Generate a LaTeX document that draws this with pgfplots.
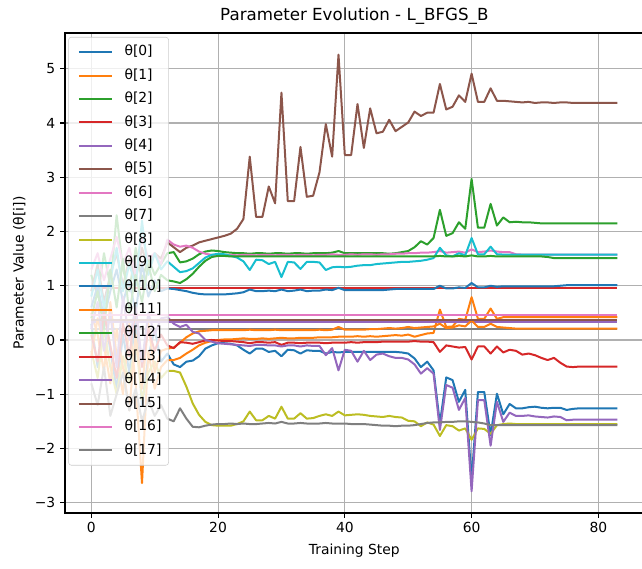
\documentclass[border=0pt]{standalone}
\usepackage{fontspec}
\setmainfont{DejaVu Sans}
\usepackage{pgfplots}
\pgfplotsset{compat=1.18}
\definecolor{c0}{HTML}{1F77B4}
\definecolor{c1}{HTML}{FF7F0E}
\definecolor{c2}{HTML}{2CA02C}
\definecolor{c3}{HTML}{D62728}
\definecolor{c4}{HTML}{9467BD}
\definecolor{c5}{HTML}{8C564B}
\definecolor{c6}{HTML}{E377C2}
\definecolor{c7}{HTML}{7F7F7F}
\definecolor{c8}{HTML}{BCBD22}
\definecolor{c9}{HTML}{17BECF}
\pgfplotsset{
  pl/.style={line width=1.5pt, line join=round},
  /pgfplots/table/steps/.style={x expr=\coordindex, y index=0, header=false, row sep=\\},
}
\begin{document}
\fontsize{10.4}{12.5}\selectfont
\begin{tikzpicture}
\begin{axis}[
  at={(48.75pt,41.25pt)}, anchor=south west,
  scale only axis, width=434pt, height=360pt,
  xmin=-4.15, xmax=87.15, ymin=-3.19, ymax=5.66,
  xtick={0,20,40,60,80},
  ytick={-3,-2,-1,0,1,2,3,4,5},
  yticklabels={−3,−2,−1,0,1,2,3,4,5},
  /pgf/number format/assume math mode=true,
  tick label style={font=\fontsize{10.4}{12.5}\selectfont},
  label style={font=\fontsize{10.4}{12.5}\selectfont},
  title style={font=\fontsize{12.5}{15}\selectfont, yshift=-3.5pt},
  title={Parameter Evolution - L\_BFGS\_B},
  xlabel={Training Step},
  ylabel={Parameter Value (θ[i])},
  xlabel style={yshift=-1pt},
  grid=major,
  major grid style={color=black!31, line width=0.8pt},
  axis line style={line width=0.8pt},
  tick style={black, line width=0.8pt},
  major tick length=3.6pt,
  tick align=outside,
  xtick pos=bottom, ytick pos=left,
  no markers,
  legend cell align=left,
  legend image code/.code={\path[draw=none] (0pt,0pt) -- (2pt,0pt); \draw[#1] (2.4pt,0pt) -- (27.4pt,0pt);},
  legend style={
    at={(0,1)}, anchor=north west, xshift=2.5pt, yshift=-3pt,
    draw=black!20, fill=white, fill opacity=0.8, draw opacity=1, text opacity=1,
    rounded corners=2pt, inner xsep=5.3pt, inner ysep=5.9pt,
    row sep=7.07pt, column sep=8.5pt,
    nodes={inner sep=0pt, text height=8pt, text depth=2.5pt},
    font=\fontsize{10.4}{12.5}\selectfont,
  },
]
% theta[0]
\addplot[c0, pl] table[steps] {0.3\\-0.5\\0.6\\-0.2\\-0.9\\0.1\\-0.6\\0.4\\-1.2\\-0.3\\0.2\\-0.4\\-0.25\\
-0.45\\-0.5\\-0.4\\-0.38\\-0.3\\-0.16\\-0.1\\-0.06\\-0.06\\-0.07\\
-0.1\\-0.18\\-0.25\\-0.16\\-0.16\\-0.22\\-0.2\\-0.3\\-0.18\\-0.19\\
-0.25\\-0.19\\-0.2\\-0.2\\-0.25\\-0.22\\-0.23\\-0.22\\-0.22\\-0.22\\
-0.22\\-0.22\\-0.22\\-0.22\\-0.22\\-0.22\\-0.23\\-0.25\\-0.34\\-0.50\\
-0.40\\-0.56\\-1.54\\-0.69\\-0.74\\-1.14\\-0.92\\-2.58\\-0.96\\-0.96\\
-1.75\\-0.99\\-1.37\\-1.18\\-1.26\\-1.26\\-1.24\\-1.23\\-1.25\\-1.26\\
-1.25\\-1.25\\-1.29\\-1.27\\-1.26\\-1.26\\-1.26\\-1.26\\-1.26\\-1.26\\-1.26\\};
% theta[1]
\addplot[c1, pl] table[steps] {0.5\\0.1\\-0.6\\0.7\\-0.3\\-1.0\\0.3\\-0.8\\-2.64\\-0.2\\-0.9\\-0.5\\-0.37\\
-0.37\\-0.33\\-0.25\\-0.18\\-0.1\\-0.05\\-0.02\\0.0\\0.01\\0.01\\
0.02\\0.03\\0.02\\0.02\\0.03\\0.02\\0.03\\0.04\\0.03\\0.03\\
0.04\\0.04\\0.04\\0.05\\0.05\\0.05\\0.06\\0.06\\0.06\\0.07\\
0.06\\0.07\\0.06\\0.07\\0.08\\0.09\\0.08\\0.10\\0.06\\0.09\\
0.12\\0.13\\0.56\\0.24\\0.25\\0.39\\0.37\\0.79\\0.39\\0.39\\
0.58\\0.39\\0.42\\0.42\\0.42\\0.42\\0.42\\0.42\\0.42\\0.42\\
0.42\\0.42\\0.42\\0.42\\0.42\\0.42\\0.42\\0.42\\0.42\\0.42\\0.42\\};
% theta[2]
\addplot[c2, pl] table[steps] {1.2\\0.8\\1.6\\1.0\\2.3\\1.3\\0.9\\1.7\\1.1\\1.5\\1.2\\1.4\\1.6\\
1.62\\1.43\\1.45\\1.50\\1.58\\1.63\\1.65\\1.64\\1.62\\1.61\\
1.60\\1.60\\1.59\\1.60\\1.60\\1.59\\1.60\\1.60\\1.59\\1.60\\
1.60\\1.59\\1.60\\1.60\\1.60\\1.61\\1.64\\1.60\\1.60\\1.60\\
1.60\\1.60\\1.60\\1.60\\1.59\\1.60\\1.62\\1.64\\1.71\\1.82\\
1.76\\1.88\\2.40\\1.92\\1.97\\2.17\\2.05\\2.97\\2.07\\2.07\\
2.51\\2.11\\2.26\\2.17\\2.18\\2.17\\2.17\\2.16\\2.15\\2.15\\
2.15\\2.15\\2.15\\2.15\\2.15\\2.15\\2.15\\2.15\\2.15\\2.15\\2.15\\};
% theta[3]
\addplot[c3, pl] coordinates {(0,0.96) (83,0.96)};
% theta[4]
\addplot[c4, pl] coordinates {(0,0.33) (83,0.33)};
% theta[5]
\addplot[c5, pl] table[steps] {0.9\\1.4\\0.7\\1.2\\1.6\\1.0\\1.5\\1.1\\1.7\\1.3\\1.6\\1.5\\1.8\\
1.71\\1.62\\1.70\\1.74\\1.80\\1.83\\1.86\\1.89\\1.92\\1.96\\
2.05\\2.23\\3.38\\2.27\\2.27\\2.83\\2.52\\4.56\\2.56\\2.56\\
3.56\\2.64\\2.66\\3.09\\3.98\\3.38\\5.26\\3.41\\3.41\\4.35\\
3.54\\4.27\\3.81\\3.84\\4.06\\3.85\\3.93\\4.01\\4.21\\4.13\\
4.19\\4.19\\4.72\\4.25\\4.30\\4.51\\4.39\\4.91\\4.39\\4.39\\
4.64\\4.41\\4.41\\4.40\\4.39\\4.38\\4.39\\4.37\\4.38\\4.38\\
4.37\\4.38\\4.38\\4.37\\4.37\\4.37\\4.37\\4.37\\4.37\\4.37\\4.37\\};
% theta[6]
\addplot[c6, pl] table[steps] {1.3\\1.6\\1.1\\1.5\\1.9\\1.4\\1.7\\1.2\\1.9\\1.5\\1.6\\1.4\\1.85\\
1.76\\1.72\\1.74\\1.70\\1.63\\1.59\\1.57\\1.57\\1.57\\1.57\\
1.56\\1.57\\1.57\\1.56\\1.57\\1.57\\1.56\\1.57\\1.57\\1.56\\
1.57\\1.57\\1.56\\1.57\\1.57\\1.58\\1.57\\1.57\\1.58\\1.57\\
1.58\\1.58\\1.57\\1.58\\1.58\\1.59\\1.59\\1.60\\1.60\\1.61\\
1.61\\1.62\\1.64\\1.61\\1.62\\1.63\\1.61\\1.67\\1.62\\1.63\\
1.65\\1.63\\1.62\\1.62\\1.58\\1.575\\1.575\\1.575\\1.575\\1.575\\
1.575\\1.575\\1.575\\1.575\\1.575\\1.575\\1.575\\1.575\\1.575\\1.575\\1.575\\};
% theta[7]
\addplot[c7, pl] coordinates {(0,0.21) (83,0.21)};
% theta[8]
\addplot[c8, pl] table[steps] {-0.2\\-0.7\\0.2\\-0.5\\-1.0\\-0.3\\-0.8\\0.0\\-1.1\\-0.6\\-0.4\\-0.7\\-0.57\\
-0.57\\-0.60\\-0.86\\-1.17\\-1.38\\-1.51\\-1.57\\-1.58\\-1.58\\-1.58\\
-1.55\\-1.50\\-1.32\\-1.48\\-1.48\\-1.40\\-1.45\\-1.23\\-1.45\\-1.45\\
-1.35\\-1.45\\-1.44\\-1.40\\-1.37\\-1.40\\-1.32\\-1.39\\-1.38\\-1.37\\
-1.38\\-1.40\\-1.41\\-1.42\\-1.40\\-1.42\\-1.43\\-1.49\\-1.50\\-1.59\\
-1.52\\-1.56\\-1.77\\-1.57\\-1.59\\-1.67\\-1.63\\-1.84\\-1.63\\-1.64\\
-1.73\\-1.57\\-1.55\\-1.54\\-1.55\\-1.55\\-1.55\\-1.55\\-1.55\\-1.55\\
-1.55\\-1.55\\-1.55\\-1.55\\-1.55\\-1.55\\-1.55\\-1.55\\-1.55\\-1.55\\-1.55\\};
% theta[9]
\addplot[c9, pl] table[steps] {0.8\\1.3\\0.6\\1.1\\1.7\\0.9\\1.4\\1.0\\2.2\\1.2\\1.6\\1.3\\1.45\\
1.35\\1.25\\1.27\\1.32\\1.42\\1.52\\1.57\\1.59\\1.58\\1.55\\
1.52\\1.45\\1.29\\1.48\\1.47\\1.40\\1.44\\1.16\\1.44\\1.43\\
1.31\\1.44\\1.44\\1.43\\1.29\\1.34\\1.35\\1.34\\1.35\\1.37\\
1.38\\1.38\\1.40\\1.41\\1.42\\1.43\\1.44\\1.44\\1.45\\1.46\\
1.48\\1.51\\1.70\\1.56\\1.54\\1.60\\1.56\\1.88\\1.58\\1.58\\
1.72\\1.58\\1.575\\1.575\\1.575\\1.575\\1.575\\1.575\\1.575\\1.575\\
1.575\\1.575\\1.575\\1.575\\1.575\\1.575\\1.575\\1.575\\1.575\\1.575\\1.575\\};
% theta[10]
\addplot[c0, pl] table[steps] {0.6\\1.0\\0.4\\0.9\\1.3\\0.7\\1.1\\0.5\\1.4\\0.8\\1.1\\0.9\\0.95\\
0.94\\0.92\\0.90\\0.87\\0.85\\0.84\\0.84\\0.84\\0.84\\0.85\\
0.86\\0.88\\0.93\\0.90\\0.90\\0.91\\0.90\\0.93\\0.90\\0.91\\
0.93\\0.90\\0.91\\0.91\\0.93\\0.92\\0.96\\0.92\\0.92\\0.92\\
0.92\\0.92\\0.92\\0.92\\0.93\\0.94\\0.94\\0.94\\0.94\\0.94\\
0.94\\0.94\\1.00\\0.95\\0.95\\0.97\\0.96\\1.05\\0.97\\0.97\\
1.00\\0.98\\0.99\\0.99\\0.99\\0.99\\0.99\\0.99\\0.99\\0.99\\
0.99\\1.00\\1.01\\1.01\\1.01\\1.01\\1.01\\1.01\\1.01\\1.01\\1.01\\};
% theta[11]
\addplot[c1, pl] table[steps] {-0.3\\0.4\\-0.1\\-0.8\\0.2\\-0.5\\-1.3\\0.1\\-0.9\\0.3\\-0.6\\-0.2\\-0.16\\
-0.14\\-0.05\\0.05\\0.12\\0.16\\0.17\\0.18\\0.18\\0.18\\0.18\\
0.18\\0.18\\0.19\\0.18\\0.18\\0.18\\0.19\\0.18\\0.18\\0.18\\
0.18\\0.18\\0.18\\0.19\\0.18\\0.19\\0.24\\0.19\\0.19\\0.19\\
0.19\\0.20\\0.20\\0.21\\0.22\\0.21\\0.22\\0.24\\0.22\\0.23\\
0.24\\0.25\\0.30\\0.22\\0.23\\0.27\\0.25\\0.36\\0.24\\0.24\\
0.30\\0.24\\0.23\\0.22\\0.21\\0.21\\0.21\\0.21\\0.21\\0.21\\
0.21\\0.21\\0.21\\0.21\\0.21\\0.21\\0.21\\0.21\\0.21\\0.21\\0.21\\};
% theta[12]
\addplot[c2, pl] table[steps] {0.4\\0.9\\0.2\\1.3\\0.6\\1.5\\0.5\\1.2\\0.7\\1.4\\0.9\\1.2\\1.1\\
1.08\\1.05\\1.12\\1.22\\1.35\\1.46\\1.53\\1.55\\1.55\\1.54\\
1.54\\1.54\\1.54\\1.54\\1.54\\1.54\\1.54\\1.54\\1.54\\1.54\\
1.54\\1.54\\1.54\\1.54\\1.54\\1.54\\1.54\\1.54\\1.54\\1.54\\
1.54\\1.54\\1.54\\1.54\\1.54\\1.54\\1.54\\1.54\\1.54\\1.54\\
1.54\\1.54\\1.55\\1.54\\1.54\\1.55\\1.54\\1.56\\1.54\\1.54\\
1.55\\1.54\\1.54\\1.54\\1.54\\1.54\\1.54\\1.54\\1.54\\1.53\\
1.51\\1.51\\1.51\\1.51\\1.51\\1.51\\1.51\\1.51\\1.51\\1.51\\1.51\\};
% theta[13]
\addplot[c3, pl] table[steps] {0.1\\-0.4\\0.5\\-0.1\\-0.7\\0.3\\-0.3\\0.6\\-0.5\\0.2\\-0.2\\0.1\\-0.1\\
-0.15\\-0.04\\-0.05\\-0.07\\-0.04\\-0.01\\0.0\\-0.01\\-0.02\\-0.02\\
-0.03\\-0.04\\-0.06\\-0.04\\-0.04\\-0.05\\-0.04\\-0.09\\-0.05\\-0.05\\
-0.06\\-0.05\\-0.05\\-0.05\\-0.06\\-0.05\\-0.05\\-0.05\\-0.04\\-0.05\\
-0.04\\-0.04\\-0.04\\-0.03\\-0.03\\-0.03\\-0.03\\-0.03\\-0.02\\-0.03\\
-0.03\\-0.04\\-0.22\\-0.10\\-0.12\\-0.14\\-0.13\\-0.36\\-0.12\\-0.12\\
-0.25\\-0.12\\-0.23\\-0.18\\-0.20\\-0.27\\-0.25\\-0.28\\-0.33\\-0.37\\
-0.33\\-0.42\\-0.49\\-0.50\\-0.49\\-0.49\\-0.49\\-0.49\\-0.49\\-0.49\\-0.49\\};
% theta[14]
\addplot[c4, pl] table[steps] {0.2\\0.7\\-0.2\\0.5\\-0.5\\0.8\\0.0\\0.6\\-0.4\\0.5\\0.1\\0.4\\0.42\\
0.30\\0.24\\0.28\\0.15\\0.12\\0.00\\-0.03\\-0.06\\-0.07\\-0.08\\
-0.09\\-0.10\\-0.11\\-0.09\\-0.09\\-0.10\\-0.10\\-0.12\\-0.10\\-0.10\\
-0.12\\-0.10\\-0.11\\-0.11\\-0.28\\-0.15\\-0.56\\-0.18\\-0.20\\-0.40\\
-0.20\\-0.37\\-0.27\\-0.25\\-0.30\\-0.33\\-0.33\\-0.36\\-0.45\\-0.62\\
-0.52\\-0.62\\-1.66\\-0.83\\-0.88\\-1.29\\-1.07\\-2.79\\-1.11\\-1.11\\
-1.95\\-1.14\\-1.51\\-1.34\\-1.40\\-1.40\\-1.39\\-1.41\\-1.42\\-1.43\\
-1.41\\-1.42\\-1.48\\-1.47\\-1.47\\-1.47\\-1.47\\-1.47\\-1.47\\-1.47\\-1.47\\};
% theta[15]
\addplot[c5, pl] coordinates {(0,0.37) (83,0.37)};
% theta[16]
\addplot[c6, pl] coordinates {(0,0.46) (83,0.46)};
% theta[17]
\addplot[c7, pl] table[steps] {-0.8\\-1.2\\-0.5\\-1.4\\-1.0\\-0.6\\-1.3\\-0.9\\-1.5\\-1.1\\-1.4\\-1.2\\-1.45\\
-1.50\\-1.26\\-1.45\\-1.60\\-1.61\\-1.58\\-1.56\\-1.55\\-1.55\\-1.54\\
-1.55\\-1.54\\-1.55\\-1.55\\-1.54\\-1.53\\-1.54\\-1.51\\-1.54\\-1.54\\
-1.53\\-1.54\\-1.54\\-1.54\\-1.53\\-1.54\\-1.54\\-1.54\\-1.55\\-1.55\\
-1.55\\-1.56\\-1.57\\-1.58\\-1.58\\-1.59\\-1.58\\-1.58\\-1.57\\-1.55\\
-1.53\\-1.52\\-1.52\\-1.51\\-1.51\\-1.50\\-1.50\\-1.51\\-1.52\\-1.54\\
-1.57\\-1.57\\-1.57\\-1.57\\-1.57\\-1.57\\-1.57\\-1.57\\-1.57\\-1.57\\
-1.57\\-1.57\\-1.57\\-1.57\\-1.57\\-1.57\\-1.57\\-1.57\\-1.57\\-1.57\\-1.57\\};
\legend{θ[0],θ[1],θ[2],θ[3],θ[4],θ[5],θ[6],θ[7],θ[8],θ[9],θ[10],θ[11],θ[12],θ[13],θ[14],θ[15],θ[16],θ[17]}
\end{axis}
\pgfresetboundingbox
\path[use as bounding box] (0,0) rectangle (481.5pt,426pt);
\end{tikzpicture}
\end{document}
